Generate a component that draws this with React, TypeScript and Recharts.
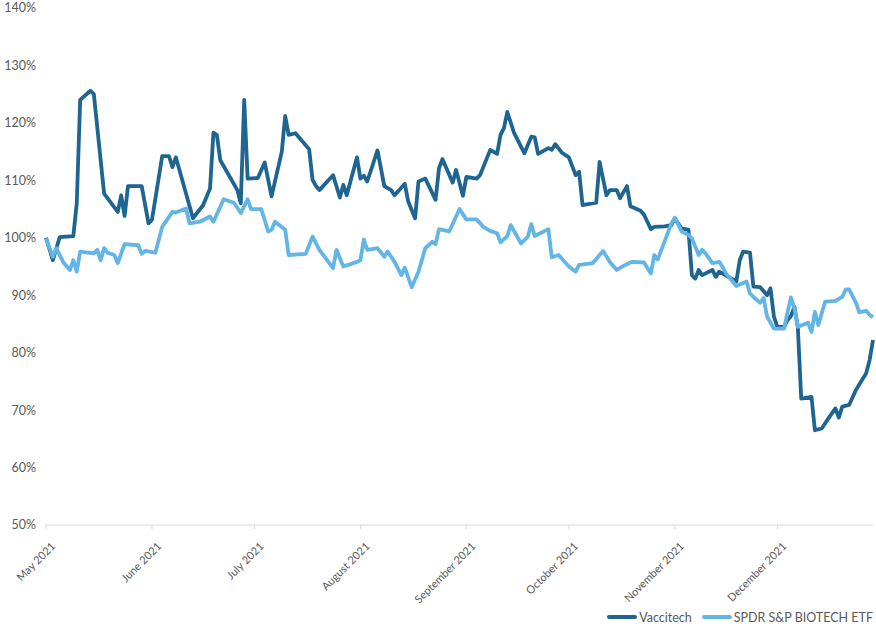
import { LineChart, Line, XAxis, YAxis, Legend } from 'recharts'

// ─────────────────────────────────────────
// Vaccitech vs SPDR S&P Biotech ETF
// Indexed performance (May 2021 = 100%), May – Dec 2021
// x = days since 1 May 2021
// ─────────────────────────────────────────

const DARK = '#1E6591'
const LIGHT = '#62B5E5'
const TEXT = '#595959'
const FONT = 'Lato, "Open Sans", sans-serif'

// Month ticks (days since 1 May) and their labels
const monthTicks = [0, 31, 61, 92, 123, 153, 184, 214]
const monthLabels = [
  'May 2021',
  'June 2021',
  'July 2021',
  'August 2021',
  'September 2021',
  'October 2021',
  'November 2021',
  'December 2021',
]

const yTicks = [50, 60, 70, 80, 90, 100, 110, 120, 130, 140]

// Vaccitech
const vacDays = [
  0, 2, 4, 8, 9, 10, 13, 14, 17, 21, 22, 23, 24, 28, 30, 31, 34, 36, 37, 38,
  43, 46, 48, 49, 50, 51, 56, 57, 58, 59, 62, 64, 66, 69, 70, 71, 73, 77, 78, 79,
  80, 84, 86, 87, 88, 91, 92, 93, 94, 97, 99, 101, 102, 105, 106, 108, 109, 111, 114, 115,
  116, 119, 120, 122, 123, 126, 127, 130, 132, 133, 134, 135, 137, 140, 142, 143, 144, 147, 148, 149,
  151, 153, 155, 156, 157, 161, 162, 164, 165, 167, 168, 170, 171, 174, 175, 177, 178, 181, 183, 184,
  186, 188, 189, 190, 191, 192, 195, 196, 197, 202, 203, 204, 206, 207, 209, 211, 212, 213, 214, 216,
  217, 218, 219, 220, 221, 224, 225, 227, 229, 231, 232, 233, 235, 237, 240, 241, 242,
]
const vacValues = [
  100, 96.1, 100.1, 100.3, 106, 124, 125.6, 125, 107.7, 104.5, 107.4, 103.8, 109, 109, 102.5, 103.1, 114.2, 114.2, 112.3, 114,
  103.4, 105.7, 108.6, 118.3, 117.9, 113.5, 108.3, 106, 124, 110.3, 110.4, 113.1, 107.2, 115, 121.2, 117.9, 118.2, 115.4, 110.1, 109,
  108.3, 110.9, 107, 109.2, 107.4, 114, 110.3, 110.8, 109.8, 115.2, 109, 108.3, 107.4, 109.4, 106.3, 103.4, 109.8, 110.3, 106.6, 112.1,
  113.7, 109.6, 111.8, 107.3, 110.6, 110.3, 110.9, 115.3, 114.6, 117.9, 119.1, 121.9, 118.2, 114.7, 117.6, 117.5, 114.6, 115.6, 115.3, 116.3,
  114.8, 114, 110.9, 111.5, 105.7, 106.1, 113.2, 107.4, 108.3, 108.3, 106.9, 109, 105.5, 104.7, 104, 101.5, 101.9, 102, 102.2, 103.4,
  101.6, 101.4, 93.5, 92.9, 94.4, 93.5, 94.4, 93.2, 94.1, 92.4, 96.1, 97.6, 97.4, 91.5, 91.4, 90, 91.2, 86.3, 84.5, 84.5,
  85.7, 86.4, 88, 84.5, 72, 72.3, 66.5, 66.8, 68.6, 70.3, 68.7, 70.6, 70.9, 73.5, 76.4, 78.7, 82.2,
]

// SPDR S&P Biotech ETF
const etfDays = [
  0, 2, 3, 5, 7, 8, 9, 10, 14, 15, 16, 17, 18, 20, 21, 23, 27, 28, 29, 32,
  34, 37, 38, 41, 42, 45, 48, 49, 52, 55, 57, 59, 60, 63, 65, 66, 67, 70, 71, 76,
  78, 80, 84, 85, 87, 91, 92, 93, 94, 97, 99, 100, 102, 104, 105, 107, 109, 111, 113, 114,
  115, 118, 121, 123, 126, 128, 130, 132, 133, 135, 136, 139, 141, 142, 143, 147, 148, 150, 153, 155,
  156, 160, 163, 165, 167, 169, 171, 172, 175, 177, 178, 179, 183, 184, 186, 188, 189, 191, 192, 193,
  195, 197, 198, 199, 202, 205, 206, 207, 209, 210, 211, 213, 216, 217, 218, 219, 220, 223, 224, 225,
  226, 228, 231, 233, 234, 235, 237, 238, 240, 241, 242,
]
const etfValues = [
  99.9, 96.7, 98.2, 95.8, 94.4, 96.1, 94.1, 97.6, 97.3, 97.9, 96.1, 98.2, 97.4, 97, 95.6, 98.9, 98.7, 97.2, 97.7, 97.4,
  101.9, 104.5, 104.4, 105.1, 102.5, 102.8, 103.7, 102.8, 106.7, 106.1, 104.3, 106.7, 105, 105, 101.1, 101.4, 102.8, 101.4, 97, 97.2,
  100.2, 97.9, 94.7, 97.9, 95, 95.8, 96.1, 99.7, 97.9, 98.2, 96.7, 97.6, 95.8, 93.5, 94.8, 91.4, 94.1, 98.2, 99.3, 98.9,
  101.5, 101.1, 105, 103.2, 103.2, 101.9, 101.2, 100.8, 99.2, 100.3, 102.2, 99, 100.2, 102.4, 100.3, 101.5, 96.6, 97, 95, 94.1,
  95.3, 95.6, 97.7, 95.8, 94.4, 95.1, 95.7, 95.8, 95.7, 93.8, 97, 96.2, 102.5, 103.5, 101.1, 100.5, 99.9, 97, 97.9, 97.3,
  95.6, 95.8, 94.9, 93.8, 91.6, 92.4, 90.3, 89.7, 88.7, 89.5, 86.3, 84.2, 84.2, 87.1, 89.6, 87.7, 84.5, 85.2, 83.6, 87.1,
  84.8, 88.9, 89, 89.7, 91, 91, 88.7, 87, 87.3, 86.6, 86.2,
]

const vacData = vacDays.map((day, i) => ({ day, value: vacValues[i] }))
const etfData = etfDays.map((day, i) => ({ day, value: etfValues[i] }))

// Rotated month label, text end sits just below-right of the tick
function MonthTick({ x, y, payload }: any) {
  const idx = monthTicks.indexOf(payload.value)
  return (
    <g transform={`translate(${x + 10},${y + 16})`}>
      <text
        x={0}
        y={0}
        textAnchor="end"
        transform="rotate(-45)"
        fill={TEXT}
        fontSize={11}
        fontFamily={FONT}
      >
        {monthLabels[idx]}
      </text>
    </g>
  )
}

// Legend: thick line swatch + label, right aligned
function LegendContent() {
  const items = [
    { name: 'Vaccitech', color: DARK },
    { name: 'SPDR S&P BIOTECH ETF', color: LIGHT },
  ]
  return (
    <div
      style={{
        display: 'flex',
        justifyContent: 'flex-end',
        alignItems: 'center',
        height: 20,
        fontFamily: FONT,
        fontSize: 12.5,
        color: TEXT,
      }}
    >
      {items.map((it, i) => (
        <div key={it.name} style={{ display: 'flex', alignItems: 'center', marginLeft: i ? 10 : 0 }}>
          <div style={{ width: 30, height: 4, borderRadius: 2, background: it.color, marginRight: 2 }} />
          <span>{it.name}</span>
        </div>
      ))}
    </div>
  )
}

export default function App() {
  return (
    <div style={{ position: 'absolute', left: 0, top: 0, width: 876, height: 630, background: '#fff' }}>
      <LineChart width={876} height={630} margin={{ top: 8, right: 3, left: 0, bottom: 3 }}>
        <XAxis
          dataKey="day"
          type="number"
          domain={[0, 242]}
          ticks={monthTicks}
          interval={0}
          height={82}
          stroke="#D9D9D9"
          tickSize={4}
          tick={<MonthTick />}
          allowDuplicatedCategory={false}
        />
        <YAxis
          type="number"
          domain={[50, 140]}
          ticks={yTicks}
          width={46}
          axisLine={false}
          tickLine={false}
          tickSize={4}
          tickMargin={6}
          tickFormatter={(v: number) => `${v}%`}
          tick={{ fill: TEXT, fontSize: 12.5, fontFamily: FONT }}
        />
        <Legend
          verticalAlign="bottom"
          content={<LegendContent />}
          wrapperStyle={{ left: 0, width: 873, height: 20 }}
        />
        <Line
          data={vacData}
          dataKey="value"
          name="Vaccitech"
          stroke={DARK}
          strokeWidth={3.8}
          strokeLinejoin="round"
          dot={false}
          isAnimationActive={false}
        />
        <Line
          data={etfData}
          dataKey="value"
          name="SPDR S&P BIOTECH ETF"
          stroke={LIGHT}
          strokeWidth={3.8}
          strokeLinejoin="round"
          dot={false}
          isAnimationActive={false}
        />
      </LineChart>
    </div>
  )
}
